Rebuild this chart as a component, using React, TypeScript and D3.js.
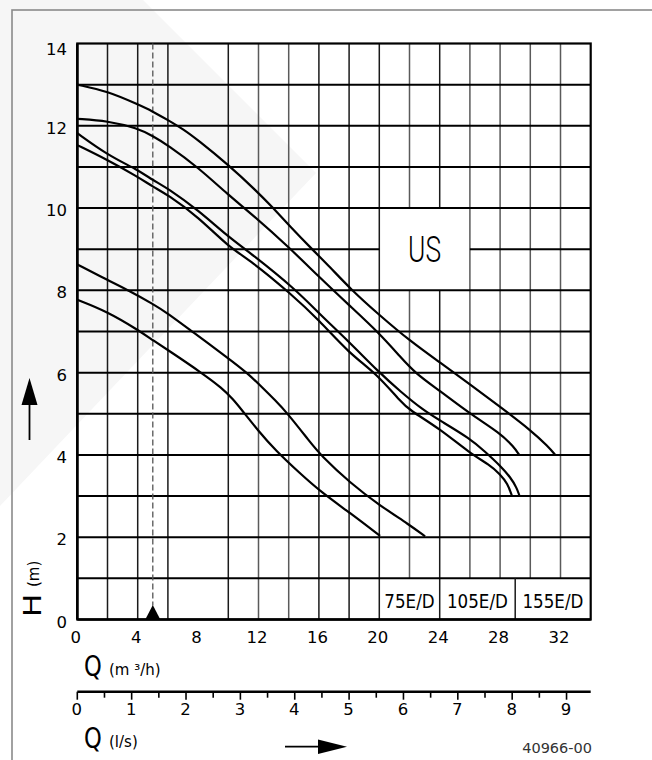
import * as d3 from "d3";

const width = 652;
const height = 760;

const font = "'DejaVu Sans', sans-serif";

// Q in m3/h, H in m
const curveA = [
  [0, 13.0], [2, 12.84], [4, 12.52], [5, 12.35], [6, 12.14], [7, 11.92], [8, 11.65],
  [10, 11.05], [11.8, 10.44], [12.9, 10.03], [14.1, 9.55], [15.6, 8.98], [16.7, 8.58],
  [18.1, 8.03], [20, 7.4], [22, 6.78], [24, 6.25], [26, 5.72], [28, 5.17], [30, 4.61],
  [31.2, 4.2], [31.65, 4.0],
];
const curveB = [
  [0, 12.17], [2, 12.12], [4, 11.94], [5, 11.75], [6, 11.53], [8, 10.99], [10, 10.32],
  [11.5, 9.87], [14.1, 9.02], [16, 8.33], [18, 7.64], [20, 6.96], [21.4, 6.38],
  [22.4, 5.98], [24, 5.56], [26, 5.0], [28, 4.53], [28.9, 4.2], [29.27, 4.0],
];
const curveC = [
  [0, 11.82], [2, 11.29], [4, 10.93], [5, 10.68], [6, 10.48], [8, 9.95], [10, 9.3],
  [11.5, 8.9], [14.5, 8.01], [16, 7.44], [18, 6.75], [20, 6.0], [21.4, 5.54],
  [22.9, 5.09], [24, 4.84], [26, 4.4], [27, 4.08], [28, 3.74], [28.7, 3.45], [29.1, 3.2],
  [29.27, 3.02],
];
const curveD = [
  [0, 11.53], [2, 11.17], [4, 10.76], [5, 10.52], [6, 10.32], [8, 9.79], [10, 9.06],
  [11.5, 8.72], [14.1, 7.93], [16, 7.28], [18, 6.47], [19.8, 5.98], [21.4, 5.3],
  [22, 5.09], [24, 4.64], [26, 4.04], [27.3, 3.76], [28, 3.53], [28.5, 3.3], [28.77, 3.02],
];
const curveE = [
  [0, 8.63], [2, 8.25], [3.5, 7.98], [5, 7.67], [6, 7.44], [7.6, 7.0], [10, 6.35],
  [11.3, 5.98], [12.3, 5.62], [13.1, 5.33], [13.9, 5.02], [15.4, 4.32], [16.1, 4.0],
  [18.1, 3.31], [20, 2.78], [22, 2.3], [23.03, 2.02],
];
const curveF = [
  [0, 7.77], [2, 7.48], [4, 7.04], [5, 6.79], [6, 6.55], [8.3, 5.98], [9.6, 5.62],
  [10.3, 5.36], [10.9, 5.09], [12, 4.58], [13.1, 4.12], [14.75, 3.55], [16.1, 3.11],
  [18.1, 2.58], [20.05, 2.03],
];
const curves = [curveA, curveB, curveC, curveD, curveE, curveF];

const qTicks = [0, 4, 8, 12, 16, 20, 24, 28, 32];
const hTicks = [0, 2, 4, 6, 8, 10, 12, 14];
const lsTicks = [0, 1, 2, 3, 4, 5, 6, 7, 8, 9];
const lsMinor = [0.5, 1.5, 2.5, 3.5, 4.5, 5.5, 6.5, 7.5, 8.5];

// grid (the 8 m3/h line is absent in the original)
const qGrid = [2, 4, 6, 10, 12, 14, 16, 18, 20, 22, 24, 26, 28, 30, 32];
const qGridLight = [12, 14, 22, 26, 28, 30, 32];
const hGrid = [1, 2, 3, 4, 5, 6, 7, 8, 9, 10, 11, 12, 13];

const usBox = { q0: 20, q1: 26, h0: 8, h1: 10, label: "US" };
const legendCells = [
  { label: "75E/D", q0: 20, q1: 24 },
  { label: "105E/D", q0: 24, q1: 29 },
  { label: "155E/D", q0: 29, q1: 34 },
];
const dutyQ = 5;
const lsPerM3h = 1 / 3.6;

const x = d3.scaleLinear().domain([0, 34]).range([77.3, 590.7]);
const y = d3.scaleLinear().domain([0, 14]).range([619.5, 43.5]);

const line = d3
  .line<number[]>()
  .x((d) => x(d[0]))
  .y((d) => y(d[1]))
  .curve(d3.curveBasis);

const App = () => {
  const legendStart = legendCells[0].q0;
  const legendEdges = legendCells.map((c) => c.q0);

  const vSegments: { q: number; h0: number; h1: number }[] = [];
  qGrid.forEach((q) => {
    const inLegend = q > legendStart && !legendEdges.includes(q);
    const bottom = inLegend ? 1 : 0;
    if (q > usBox.q0 && q < usBox.q1) {
      vSegments.push({ q, h0: bottom, h1: usBox.h0 });
      vSegments.push({ q, h0: usBox.h1, h1: 14 });
    } else {
      vSegments.push({ q, h0: bottom, h1: 14 });
    }
  });

  const hSegments: { h: number; q0: number; q1: number }[] = [];
  hGrid.forEach((h) => {
    if (h > usBox.h0 && h < usBox.h1) {
      hSegments.push({ h, q0: 0, q1: usBox.q0 });
      hSegments.push({ h, q0: usBox.q1, q1: 34 });
    } else {
      hSegments.push({ h, q0: 0, q1: 34 });
    }
  });

  const lsX = (l: number) => x(l / lsPerM3h);
  const axisY = 691.7;

  return (
    <svg
      width={width}
      height={height}
      viewBox={`0 0 ${width} ${height}`}
      style={{ position: "absolute", left: 0, top: 0, background: "#fff" }}
      fontFamily={font}
    >
      {/* faint watermark */}
      <polygon points="0,0 143,0 316,173 0,506" fill="#f6f6f6" />
      <rect x={12} y={10} width={700} height={800} fill="none" stroke="#8a8a8a" strokeWidth={1.6} />

      {/* grid */}
      {vSegments.map((s, i) => (
        <line
          key={`v${i}`}
          x1={x(s.q)}
          x2={x(s.q)}
          y1={y(s.h0)}
          y2={y(s.h1)}
          stroke={qGridLight.includes(s.q) ? "#5a5a5a" : "#1a1a1a"}
          strokeWidth={1.5}
        />
      ))}
      {hSegments.map((s, i) => (
        <line
          key={`h${i}`}
          x1={x(s.q0)}
          x2={x(s.q1)}
          y1={y(s.h)}
          y2={y(s.h)}
          stroke="#000"
          strokeWidth={2}
        />
      ))}
      <line x1={x(29)} x2={x(29)} y1={y(0)} y2={y(1)} stroke="#1a1a1a" strokeWidth={1.5} />
      <rect
        x={x(0)}
        y={y(14)}
        width={x(34) - x(0)}
        height={y(0) - y(14)}
        fill="none"
        stroke="#000"
        strokeWidth={2.2}
      />
      <line x1={x(0)} x2={x(0)} y1={y(0)} y2={y(14)} stroke="#000" strokeWidth={2.6} />
      <line x1={x(0)} x2={x(34)} y1={y(0)} y2={y(0)} stroke="#000" strokeWidth={2.6} />

      {/* US box label */}
      <text
        x={(x(usBox.q0) + x(usBox.q1)) / 2}
        y={y(9) + 13}
        fontSize={36}
        textAnchor="middle"
        fontFamily="Roboto, 'DejaVu Sans', sans-serif"
        fontWeight={300}
        textLength={33}
        lengthAdjust="spacingAndGlyphs"
      >
        {usBox.label}
      </text>

      {/* legend cells */}
      {legendCells.map((c) => (
        <g
          key={c.label}
          transform={`translate(${(x(c.q0) + x(c.q1)) / 2},${y(0) - 12}) scale(0.88,1)`}
        >
          <text fontSize={19} textAnchor="middle">
            {c.label}
          </text>
        </g>
      ))}

      {/* duty point */}
      <line
        x1={x(dutyQ)}
        x2={x(dutyQ)}
        y1={y(14)}
        y2={y(0) - 14}
        stroke="#555"
        strokeWidth={1.3}
        strokeDasharray="6,3"
      />
      <polygon
        points={`${x(dutyQ)},${y(0) - 14.5} ${x(dutyQ) - 7.5},${y(0)} ${x(dutyQ) + 7.5},${y(0)}`}
        fill="#000"
      />

      {/* curves */}
      {curves.map((c, i) => (
        <path key={i} d={line(c) as string} fill="none" stroke="#000" strokeWidth={2.2} />
      ))}

      {/* H axis labels */}
      {hTicks.map((h) => (
        <text key={h} x={67} y={y(h) + (h === 14 ? 11 : 8)} fontSize={16.5} textAnchor="end">
          {h}
        </text>
      ))}
      {/* Q m3/h labels */}
      {qTicks.map((q) => (
        <text key={q} x={x(q) - 1.5} y={643} fontSize={16.5} textAnchor="middle">
          {q}
        </text>
      ))}

      <g transform="translate(84,676) scale(0.78,1)">
        <text fontSize={29}>Q</text>
      </g>
      <text x={109} y={675} fontSize={15}>
        (m ³/h)
      </text>

      {/* l/s axis */}
      <line x1={x(0)} x2={x(34)} y1={axisY} y2={axisY} stroke="#000" strokeWidth={2.6} />
      {lsTicks.map((l) => (
        <g key={l}>
          <line x1={lsX(l)} x2={lsX(l)} y1={axisY} y2={axisY + 8} stroke="#000" strokeWidth={1.6} />
          <text x={lsX(l) - 0.5} y={715} fontSize={16.5} textAnchor="middle">
            {l}
          </text>
        </g>
      ))}
      {lsMinor.map((l) => (
        <line key={l} x1={lsX(l)} x2={lsX(l)} y1={axisY} y2={axisY + 6} stroke="#000" strokeWidth={1.6} />
      ))}
      <g transform="translate(84,748) scale(0.78,1)">
        <text fontSize={29}>Q</text>
      </g>
      <text x={109} y={747} fontSize={15}>
        (l/s)
      </text>

      {/* H (m) rotated */}
      <g transform="translate(41,617) rotate(-90)">
        <g transform="scale(1,0.8)">
          <text fontSize={31}>H</text>
        </g>
        <text x={30} y={-2} fontSize={15}>
          (m)
        </text>
      </g>

      {/* arrows */}
      <line x1={29.5} x2={29.5} y1={440} y2={400} stroke="#000" strokeWidth={1.8} />
      <polygon points="29.5,378 21.5,405 37.5,405" fill="#000" />
      <line x1={285} x2={320} y1={746.7} y2={746.7} stroke="#000" strokeWidth={1.8} />
      <polygon points="347,746.7 318,739.5 318,754" fill="#000" />

      <text x={592} y={753} fontSize={14.5} textAnchor="end" fill="#333">
        40966-00
      </text>
    </svg>
  );
};

export default App;
